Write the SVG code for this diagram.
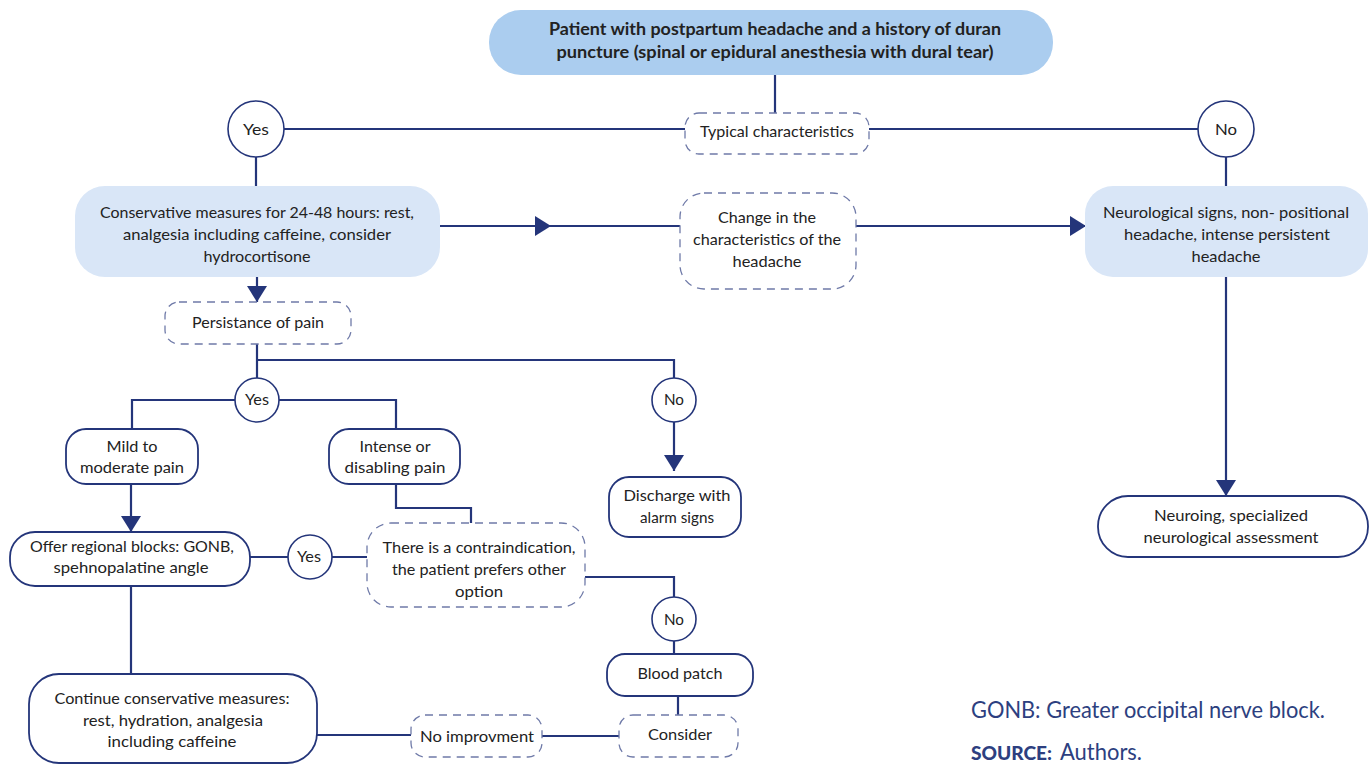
<svg xmlns="http://www.w3.org/2000/svg" width="1372" height="772" viewBox="0 0 1372 772">
<style>
  .t { font-family: Lato, "Open Sans", sans-serif; font-size: 16px; fill: #222; text-anchor: middle; }
  .b { font-weight: bold; font-size: 16.5px; }
  .fill1 { fill: #abcdef; stroke: none; }
  .fill2 { fill: #d9e6f7; stroke: none; }
  .solid { fill: #fff; stroke: #24357a; stroke-width: 1.8; }
  .dash { fill: #fff; stroke: #6f7aa8; stroke-width: 1.3; stroke-dasharray: 8 6; }
  .circ { fill: #fff; stroke: #24357a; stroke-width: 1.6; }
  .ln { fill: none; stroke: #24357a; stroke-width: 2.2; }
  .foot { font-family: Lato, "Open Sans", sans-serif; fill: #2d3f80; }
</style>
<defs>
  <marker id="ah" markerUnits="userSpaceOnUse" markerWidth="18" markerHeight="20" refX="16" refY="10" orient="auto">
    <path d="M0,0 L16,10 L0,20 Z" fill="#24357a"/>
  </marker>
</defs>
<rect width="1372" height="772" fill="#fff"/>

<g id="connectors">
  <path class="ln" d="M775,75 V113"/>
  <path class="ln" d="M284,129 H685"/>
  <path class="ln" d="M869,129 H1198"/>
  <path class="ln" d="M256,157 V186"/>
  <path class="ln" d="M1226,157 V186"/>
  <path class="ln" d="M440,226 H551" marker-end="url(#ah)"/>
  <path class="ln" d="M548,226 H680"/>
  <path class="ln" d="M856,226 H1086" marker-end="url(#ah)"/>
  <path class="ln" d="M1226,277 V496" marker-end="url(#ah)"/>
  <path class="ln" d="M257,277 V302" marker-end="url(#ah)"/>
  <path class="ln" d="M257,344 V378"/>
  <path class="ln" d="M257,360 H674 V378"/>
  <path class="ln" d="M235,400 H132 V429"/>
  <path class="ln" d="M279,400 H396 V429"/>
  <path class="ln" d="M674,422 V471" marker-end="url(#ah)"/>
  <path class="ln" d="M131,484 V532" marker-end="url(#ah)"/>
  <path class="ln" d="M396,484 V508 H471 V523"/>
  <path class="ln" d="M250,557 H288"/>
  <path class="ln" d="M332,557 H367"/>
  <path class="ln" d="M585,577 H674 V597"/>
  <path class="ln" d="M674,641 V654"/>
  <path class="ln" d="M678,696 V715"/>
  <path class="ln" d="M131,586 V674"/>
  <path class="ln" d="M619,736 H542"/>
  <path class="ln" d="M411,735 H317"/>
</g>

<g id="n-start">
  <rect class="fill1" x="489" y="10" width="564" height="65" rx="32"/>
  <text class="t b" x="775" y="35" textLength="452" lengthAdjust="spacingAndGlyphs">Patient with postpartum headache and a history of duran</text>
  <text class="t b" x="775" y="58" textLength="437" lengthAdjust="spacingAndGlyphs">puncture (spinal or epidural anesthesia with dural tear)</text>
</g>

<g id="n-typical">
  <rect class="dash" x="685" y="113" width="184" height="41" rx="14"/>
  <text class="t" x="777" y="137" textLength="154" lengthAdjust="spacingAndGlyphs">Typical characteristics</text>
</g>

<g id="n-yes1">
  <circle class="circ" cx="256" cy="129" r="28"/>
  <text class="t" x="256" y="135" textLength="26" lengthAdjust="spacingAndGlyphs">Yes</text>
</g>

<g id="n-no1">
  <circle class="circ" cx="1226" cy="129" r="28"/>
  <text class="t" x="1226" y="135" textLength="22" lengthAdjust="spacingAndGlyphs">No</text>
</g>

<g id="n-conservative">
  <rect class="fill2" x="75" y="186" width="365" height="91" rx="30"/>
  <text class="t" x="257" y="218" textLength="314" lengthAdjust="spacingAndGlyphs">Conservative measures for 24-48 hours: rest,</text>
  <text class="t" x="257" y="240" textLength="268" lengthAdjust="spacingAndGlyphs">analgesia including caffeine, consider</text>
  <text class="t" x="257" y="262" textLength="107" lengthAdjust="spacingAndGlyphs">hydrocortisone</text>
</g>

<g id="n-change">
  <rect class="dash" x="680" y="193" width="176" height="96" rx="24"/>
  <text class="t" x="767" y="223" textLength="98" lengthAdjust="spacingAndGlyphs">Change in the</text>
  <text class="t" x="767" y="245" textLength="148" lengthAdjust="spacingAndGlyphs">characteristics of the</text>
  <text class="t" x="767" y="267" textLength="69" lengthAdjust="spacingAndGlyphs">headache</text>
</g>

<g id="n-neuro">
  <rect class="fill2" x="1085" y="186" width="283" height="91" rx="28"/>
  <text class="t" x="1226" y="218" textLength="246" lengthAdjust="spacingAndGlyphs">Neurological signs, non- positional</text>
  <text class="t" x="1227" y="240" textLength="206" lengthAdjust="spacingAndGlyphs">headache, intense persistent</text>
  <text class="t" x="1226" y="262" textLength="69" lengthAdjust="spacingAndGlyphs">headache</text>
</g>

<g id="n-neuroing">
  <rect class="solid" x="1098" y="496" width="270" height="61" rx="30"/>
  <text class="t" x="1231" y="521" textLength="154" lengthAdjust="spacingAndGlyphs">Neuroing, specialized</text>
  <text class="t" x="1231" y="543" textLength="175" lengthAdjust="spacingAndGlyphs">neurological assessment</text>
</g>

<g id="n-persist">
  <rect class="dash" x="165" y="302" width="186" height="42" rx="14"/>
  <text class="t" x="258" y="328" textLength="132" lengthAdjust="spacingAndGlyphs">Persistance of pain</text>
</g>

<g id="n-yes2">
  <circle class="circ" cx="257" cy="400" r="22"/>
  <text class="t" x="257" y="405" textLength="24" lengthAdjust="spacingAndGlyphs">Yes</text>
</g>

<g id="n-no2">
  <circle class="circ" cx="674" cy="400" r="22"/>
  <text class="t" x="674" y="405" textLength="20" lengthAdjust="spacingAndGlyphs">No</text>
</g>

<g id="n-mild">
  <rect class="solid" x="66" y="429" width="132" height="55" rx="20"/>
  <text class="t" x="132" y="452" textLength="51" lengthAdjust="spacingAndGlyphs">Mild to</text>
  <text class="t" x="132" y="473" textLength="104" lengthAdjust="spacingAndGlyphs">moderate pain</text>
</g>

<g id="n-intense">
  <rect class="solid" x="329" y="429" width="131" height="55" rx="20"/>
  <text class="t" x="395" y="452" textLength="71" lengthAdjust="spacingAndGlyphs">Intense or</text>
  <text class="t" x="395" y="473" textLength="101" lengthAdjust="spacingAndGlyphs">disabling pain</text>
</g>

<g id="n-discharge">
  <rect class="solid" x="609" y="477" width="132" height="60" rx="20"/>
  <text class="t" x="677" y="501" textLength="107" lengthAdjust="spacingAndGlyphs">Discharge with</text>
  <text class="t" x="677" y="523" textLength="74" lengthAdjust="spacingAndGlyphs">alarm signs</text>
</g>

<g id="n-offer">
  <rect class="solid" x="10" y="532" width="240" height="54" rx="25"/>
  <text class="t" x="132" y="552" textLength="204" lengthAdjust="spacingAndGlyphs">Offer regional blocks: GONB,</text>
  <text class="t" x="131" y="573" textLength="155" lengthAdjust="spacingAndGlyphs">spehnopalatine angle</text>
</g>

<g id="n-yes3">
  <circle class="circ" cx="310" cy="557" r="22"/>
  <text class="t" x="309" y="562" textLength="24" lengthAdjust="spacingAndGlyphs">Yes</text>
</g>

<g id="n-contra">
  <rect class="dash" x="367" y="523" width="218" height="84" rx="24"/>
  <text class="t" x="479" y="553" textLength="193" lengthAdjust="spacingAndGlyphs">There is a contraindication,</text>
  <text class="t" x="479" y="575" textLength="174" lengthAdjust="spacingAndGlyphs">the patient prefers other</text>
  <text class="t" x="479" y="597" textLength="48" lengthAdjust="spacingAndGlyphs">option</text>
</g>

<g id="n-no3">
  <circle class="circ" cx="674" cy="619" r="22"/>
  <text class="t" x="674" y="625" textLength="20" lengthAdjust="spacingAndGlyphs">No</text>
</g>

<g id="n-blood">
  <rect class="solid" x="607" y="654" width="146" height="42" rx="18"/>
  <text class="t" x="680" y="679" textLength="85" lengthAdjust="spacingAndGlyphs">Blood patch</text>
</g>

<g id="n-consider">
  <rect class="dash" x="619" y="715" width="119" height="42" rx="14"/>
  <text class="t" x="680" y="740" textLength="64" lengthAdjust="spacingAndGlyphs">Consider</text>
</g>

<g id="n-noimp">
  <rect class="dash" x="411" y="715" width="131" height="42" rx="14"/>
  <text class="t" x="477" y="742" textLength="114" lengthAdjust="spacingAndGlyphs">No improvment</text>
</g>

<g id="n-continue">
  <rect class="solid" x="29" y="674" width="288" height="89" rx="30"/>
  <text class="t" x="172" y="704" textLength="235" lengthAdjust="spacingAndGlyphs">Continue conservative measures:</text>
  <text class="t" x="173" y="726" textLength="180" lengthAdjust="spacingAndGlyphs">rest, hydration, analgesia</text>
  <text class="t" x="172" y="747" textLength="129" lengthAdjust="spacingAndGlyphs">including caffeine</text>
</g>

<g id="footer">
  <text class="foot" x="971" y="718" font-size="23" textLength="354" lengthAdjust="spacingAndGlyphs">GONB: Greater occipital nerve block.</text>
  <text class="foot" x="971" y="760" font-size="18" font-weight="900" textLength="81" lengthAdjust="spacingAndGlyphs">SOURCE:</text>
  <text class="foot" x="1060" y="760" font-size="24" textLength="82" lengthAdjust="spacingAndGlyphs">Authors.</text>
</g>
</svg>
